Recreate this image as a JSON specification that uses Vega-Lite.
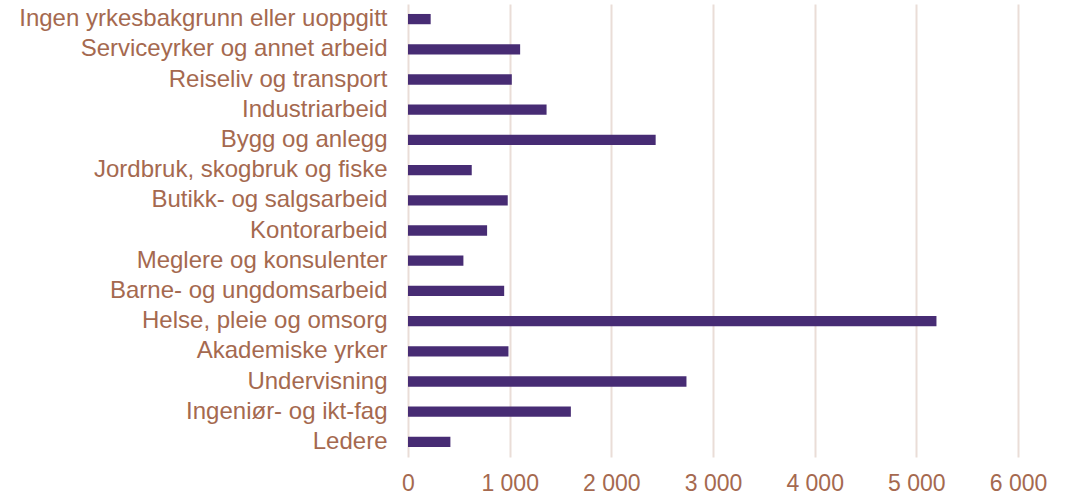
{
  "$schema": "https://vega.github.io/schema/vega-lite/v6.json",
  "autosize": "none",
  "width": 610,
  "height": 453,
  "padding": {"left": 408, "top": 4, "right": 53, "bottom": 39},
  "background": "white",
  "data": {"values": [
    {"kategori": "Ingen yrkesbakgrunn eller uoppgitt", "antall": 223},
    {"kategori": "Serviceyrker og annet arbeid", "antall": 1103},
    {"kategori": "Reiseliv og transport", "antall": 1021},
    {"kategori": "Industriarbeid", "antall": 1363},
    {"kategori": "Bygg og anlegg", "antall": 2436},
    {"kategori": "Jordbruk, skogbruk og fiske", "antall": 627},
    {"kategori": "Butikk- og salgsarbeid", "antall": 981},
    {"kategori": "Kontorarbeid", "antall": 778},
    {"kategori": "Meglere og konsulenter", "antall": 545},
    {"kategori": "Barne- og ungdomsarbeid", "antall": 946},
    {"kategori": "Helse, pleie og omsorg", "antall": 5198},
    {"kategori": "Akademiske yrker", "antall": 988},
    {"kategori": "Undervisning", "antall": 2739},
    {"kategori": "Ingeniør- og ikt-fag", "antall": 1602},
    {"kategori": "Ledere", "antall": 417}
  ]},
  "mark": {"type": "bar", "color": "#472C74"},
  "encoding": {
    "y": {
      "field": "kategori", "type": "nominal", "sort": null,
      "scale": {"paddingInner": 0.66, "paddingOuter": 0.33},
      "axis": {"title": null, "domain": false, "ticks": false, "labelPadding": 21,
               "labelFont": "Liberation Sans", "labelFontSize": 24, "labelColor": "#A5694F", "labelLimit": 500}
    },
    "x": {
      "field": "antall", "type": "quantitative",
      "scale": {"domain": [0, 6000], "nice": false},
      "axis": {"title": null, "domain": false, "ticks": false, "values": [0,1000,2000,3000,4000,5000,6000],
               "labelExpr": "replace(format(datum.value, ','), ',', ' ')",
               "labelPadding": 15, "labelFont": "Liberation Sans", "labelFontSize": 23, "labelColor": "#A5694F",
               "grid": true, "gridColor": "#EADDD7", "gridWidth": 2, "labelFlush": false}
    }
  },
  "config": {"view": {"stroke": null}}
}
